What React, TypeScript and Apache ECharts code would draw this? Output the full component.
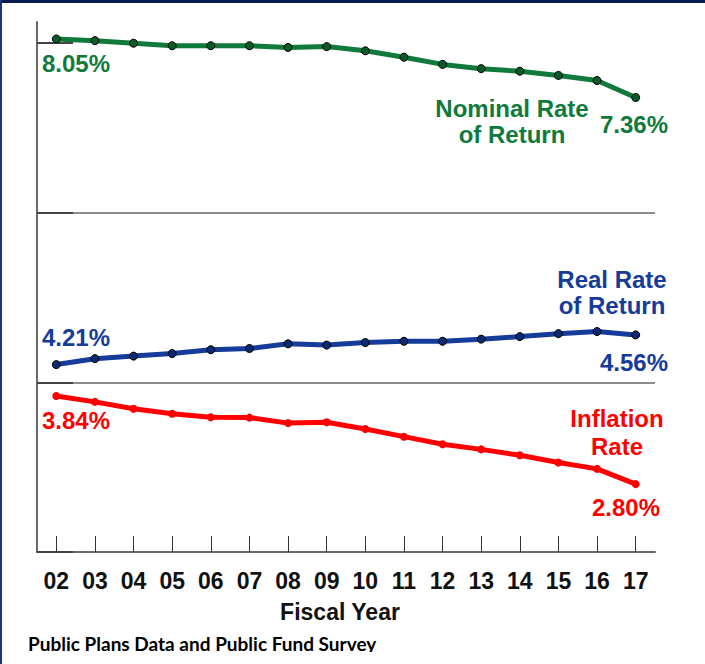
import React, { useEffect, useRef } from "react";
import * as echarts from "echarts";

const years = ["02", "03", "04", "05", "06", "07", "08", "09", "10", "11", "12", "13", "14", "15", "16", "17"];
const nominalRate = [8.05, 8.03, 8.0, 7.97, 7.97, 7.97, 7.95, 7.96, 7.91, 7.835, 7.75, 7.7, 7.67, 7.62, 7.56, 7.36];
const realRate = [4.21, 4.28, 4.31, 4.34, 4.385, 4.4, 4.455, 4.44, 4.47, 4.485, 4.485, 4.51, 4.54, 4.575, 4.6, 4.56];
const inflationRate = [3.84, 3.77, 3.69, 3.63, 3.59, 3.585, 3.52, 3.53, 3.45, 3.36, 3.27, 3.21, 3.14, 3.055, 2.98, 2.8];
const yTicks = [2, 4, 6, 8];

const xAxisTitle = "Fiscal Year";
const sourceText = "Public Plans Data and Public Fund Survey";
const nominalName = "Nominal Rate\nof Return";
const realName = "Real Rate\nof Return";
const inflationName = "Inflation\nRate";

const GREEN = "#0f7a3b";
const GREEN_DOT = "#0a5a2a";
const BLUE = "#153c9a";
const BLUE_DOT = "#0b2a72";
const RED = "#ff0000";
const FONT = '"Liberation Sans", Arial, sans-serif';

const pct = (v: number) => v.toFixed(2) + "%";

function txt(text: string, x: number, y: number, fill: string, align: string, size = 24, lineHeight = 26, family = FONT) {
  return {
    type: "text",
    x,
    y,
    z: 10,
    style: {
      text,
      fill,
      font: `bold ${size}px ${family}`,
      fontSize: size,
      fontWeight: "bold",
      fontFamily: family,
      lineHeight,
      align,
      verticalAlign: "middle",
      textAlign: align,
      textVerticalAlign: "middle",
    },
  };
}

export default function App() {
  const ref = useRef<HTMLDivElement>(null);
  useEffect(() => {
    if (!ref.current) return;
    const chart = echarts.init(ref.current, undefined, { renderer: "svg" });
    const last = years.length - 1;
    chart.setOption({
      animation: false,
      backgroundColor: "#ffffff",
      grid: { left: 37, right: 50, top: 22, bottom: 112, containLabel: false },
      xAxis: {
        type: "category",
        data: years,
        boundaryGap: true,
        axisLine: { show: true, lineStyle: { color: "#6a6a6a", width: 2 } },
        axisTick: { show: true, inside: true, alignWithLabel: true, length: 16, lineStyle: { color: "#333", width: 1 } },
        axisLabel: { show: true, margin: 17, color: "#111", fontSize: 23, fontWeight: "bold", fontFamily: FONT },
        splitLine: { show: false },
      },
      yAxis: {
        type: "value",
        min: 2,
        max: 8.25,
        interval: 2,
        axisLine: { show: true, lineStyle: { color: "#6a6a6a", width: 2 } },
        axisTick: { show: true, inside: true, length: 36, customValues: yTicks, lineStyle: { color: "#444", width: 2 } },
        axisLabel: { show: false },
        splitLine: { show: true, showMaxLine: false, lineStyle: { color: "#8c8c8c", width: 2 } },
      },
      series: [
        {
          type: "line",
          data: inflationRate,
          symbol: "circle",
          symbolSize: 8,
          lineStyle: { color: RED, width: 5 },
          itemStyle: { color: RED, borderColor: RED, borderWidth: 0 },
          z: 3,
        },
        {
          type: "line",
          data: realRate,
          symbol: "circle",
          symbolSize: 8,
          lineStyle: { color: BLUE, width: 5 },
          itemStyle: { color: BLUE_DOT, borderColor: "#000", borderWidth: 1 },
          z: 4,
        },
        {
          type: "line",
          data: nominalRate,
          symbol: "circle",
          symbolSize: 8,
          lineStyle: { color: GREEN, width: 5 },
          itemStyle: { color: GREEN_DOT, borderColor: "#000", borderWidth: 1 },
          z: 5,
        },
      ],
      graphic: [
        { type: "rect", shape: { x: 0, y: 0, width: 705, height: 3 }, style: { fill: "#0b1c52" }, z: 20 },
        { type: "rect", shape: { x: 0, y: 0, width: 2, height: 664 }, style: { fill: "#1a3580" }, z: 20 },
        txt(pct(nominalRate[0]), 42, 63, GREEN, "left"),
        txt(nominalName, 512, 121, GREEN, "center"),
        txt(pct(nominalRate[last]), 668, 124, GREEN, "right"),
        txt(pct(realRate[0]), 42, 337, BLUE, "left"),
        txt(realName, 612, 292, BLUE, "center"),
        txt(pct(realRate[last]), 668, 362, BLUE, "right"),
        txt(pct(inflationRate[0]), 42, 420, RED, "left"),
        txt(inflationName, 617, 432, RED, "center", 24, 28),
        txt(pct(inflationRate[last]), 660, 507, RED, "right"),
        txt(xAxisTitle, 340, 612, "#111", "center", 23),
        {
          type: "text",
          x: 28,
          y: 653,
          z: 10,
          style: {
            text: sourceText,
            fill: "#000",
            font: 'bold 19px Lato, "Open Sans", sans-serif',
            align: "left",
            verticalAlign: "bottom",
            textAlign: "left",
            textVerticalAlign: "bottom",
          },
        },
        { type: "rect", shape: { x: 340, y: 652, width: 80, height: 12 }, style: { fill: "#ffffff" }, z: 15 },
      ],
    });
    return () => chart.dispose();
  }, []);
  return <div ref={ref} style={{ position: "absolute", left: 0, top: 0, width: 705, height: 664 }} />;
}
